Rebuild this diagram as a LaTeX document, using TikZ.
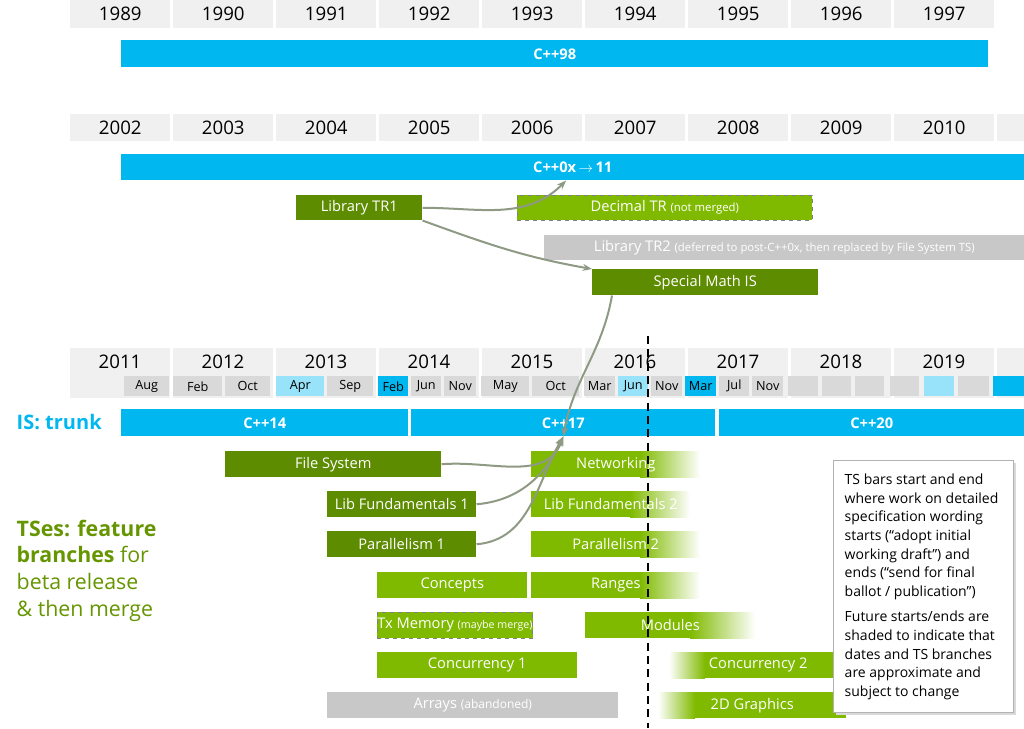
\documentclass[tikz,border=0pt]{standalone}
\usepackage{fontspec}
\setmainfont{Open Sans}
\usetikzlibrary{arrows.meta}
\definecolor{trunk}{HTML}{00B7EF}
\definecolor{paleblue}{HTML}{99E3FA}
\definecolor{dkgreen}{HTML}{5E8C00}
\definecolor{ltgreen}{HTML}{7FBA00}
\definecolor{yearbg}{HTML}{F0F0F0}
\definecolor{monthbg}{HTML}{D9D9D9}
\definecolor{abandon}{HTML}{C8C8C8}
\definecolor{merge}{HTML}{8E9A84}
\tikzset{
  yearcell/.style={fill=yearbg},
  barlbl/.style={font=\fontsize{11}{13}\selectfont, text=white},
  trunkbar/.style={fill=trunk, font=\fontsize{11}{13}\selectfont\bfseries, text=white},
  dkbar/.style={fill=dkgreen, barlbl},
  ltbar/.style={fill=ltgreen, barlbl},
  greybar/.style={fill=abandon, barlbl},
  dashbar/.style={ltbar, draw=gray, dashed},
  mergearrow/.style={draw=merge, line width=1.5pt, -{Stealth[length=7pt]}},
}
% bar node: name, x1, y1, x2, y2, style, text
\newcommand{\tbar}[7]{\node[#6, anchor=north west, inner sep=0pt,
  minimum width={(#4-#2)*0.75pt}, minimum height={(#5-#3)*0.75pt}] (#1) at (#2,#3) {#7};}
% fading bar: name, x1, y1, solid end, x2, y2, text
\newcommand{\fadebar}[7]{\fill[ltgreen] (#2,#3) rectangle (#4,#6);
  \shade[left color=ltgreen, right color=white] (#4,#3) rectangle (#5,#6);
  \tbar{#1}{#2}{#3}{#5}{#6}{barlbl}{#7}}
% fading-in bar: name, x1, y1, solid start, x2, y2, text
\newcommand{\fadeinbar}[7]{\shade[left color=white, right color=ltgreen] (#2,#3) rectangle (#4,#6);
  \fill[ltgreen] (#4,#3) rectangle (#5,#6);
  \tbar{#1}{#2}{#3}{#5}{#6}{barlbl}{#7}}
\begin{document}
\begin{tikzpicture}[x=0.75pt, y=-0.75pt]
  \useasboundingbox (0,0) rectangle (1024,728);

  % year rows
  \foreach \yr [count=\i from 0] in {1989,...,1997}
    \node[yearcell, anchor=north west, minimum width=75pt, minimum height=21pt, inner sep=0pt,
      font=\fontsize{14}{16}\selectfont] (y\yr) at (70+103*\i,0) {\yr};
  \foreach \yr [count=\i from 0] in {2002,...,2010}
    \node[yearcell, anchor=north west, minimum width=75pt, minimum height=20pt, inner sep=0pt,
      font=\fontsize{14}{16}\selectfont] (y\yr) at (70+103*\i,114) {\yr};
  \fill[yearbg] (997,114) rectangle (1024,141);
  \foreach \yr [count=\i from 0] in {2011,...,2019}
    \fill[yearbg] (70+103*\i,348) rectangle (170+103*\i,398);
  \fill[yearbg] (997,348) rectangle (1024,398);
  \foreach \yr [count=\i from 0] in {2011,...,2019}
    \node[font=\fontsize{14}{16}\selectfont] (y\yr) at (120+103*\i,362) {\yr};

  % months
  \foreach \a/\b/\m/\c [count=\k] in {124/169/Aug/monthbg, 173/222/Feb/monthbg, 225/270/Oct/monthbg,
      276/324/Apr/paleblue, 327/373/Sep/monthbg, 378/408/Feb/trunk, 411/441/Jun/monthbg,
      444/476/Nov/monthbg, 481/529/May/monthbg, 532/579/Oct/monthbg, 584/615/Mar/monthbg,
      618/648/Jun/paleblue, 651/682/Nov/monthbg, 685/716/Mar/trunk, 719/749/Jul/monthbg,
      752/783/Nov/monthbg, 788/818/{}/monthbg, 822/851/{}/monthbg, 855/884/{}/monthbg,
      890/919/{}/monthbg, 924/954/{}/paleblue, 958/989/{}/monthbg, 993/1024/{}/trunk}
    {\tbar{m\k}{\a}{376}{\b}{396}{fill=\c, font=\fontsize{9.5}{11}\selectfont}{\m}}

  % standards
  \tbar{cpp98}{121}{40}{988}{67}{trunkbar}{C++98}
  \tbar{cpp0x}{121}{154}{1024}{180}{trunkbar}{C++0x\,$\rightarrow$\,11}
  \tbar{cpp14}{121}{409}{408}{436}{trunkbar}{C++14}
  \tbar{cpp17}{411}{409}{715}{436}{trunkbar}{C++17}
  \tbar{cpp20}{719}{409}{1024}{436}{trunkbar}{C++20}
  \node[anchor=west, text=trunk, font=\fontsize{15}{17}\selectfont\bfseries] (trunklbl) at (12,422) {IS: trunk};

  % 2000s documents
  \tbar{tr1}{296}{195}{422}{220}{dkbar}{Library TR1}
  \tbar{dectr}{517}{195}{812}{220}{dashbar}{Decimal TR {\fontsize{8.5}{10}\selectfont(not merged)}}
  \tbar{tr2}{544}{235}{1024}{260}{greybar}{Library TR2 {\fontsize{8.5}{10}\selectfont(deferred to post-C++0x, then replaced by File System TS)}}
  \tbar{math}{592}{269}{818}{295}{dkbar}{Special Math IS}

  % feature branches
  \tbar{fs}{225}{451}{441}{477}{dkbar}{File System}
  \tbar{lf1}{327}{491}{476}{517}{dkbar}{Lib Fundamentals 1}
  \tbar{par1}{327}{531}{476}{557}{dkbar}{Parallelism 1}
  \tbar{concepts}{377}{572}{527}{598}{ltbar}{Concepts}
  \tbar{txmem}{377}{612}{527}{638}{dashbar}{Tx Memory {\fontsize{8}{10}\selectfont(maybe merge)}}
  \tbar{conc1}{377}{652}{577}{678}{ltbar}{Concurrency 1}
  \tbar{arrays}{327}{692}{618}{718}{greybar}{Arrays {\fontsize{9}{10}\selectfont(abandoned)}}
  \fadebar{net}{531}{451}{640}{700}{477}{Networking}
  \fadebar{lf2}{531}{491}{630}{690}{517}{Lib Fundamentals 2}
  \fadebar{par2}{531}{531}{640}{700}{557}{Parallelism 2}
  \fadebar{ranges}{531}{572}{640}{700}{598}{Ranges}
  \fadebar{modules}{585}{612}{690}{755}{638}{Modules}
  \fadeinbar{conc2}{669}{652}{705}{847}{678}{Concurrency 2}
  \fadeinbar{graphics}{658}{692}{695}{846}{718}{2D Graphics}

  % merges
  \draw[mergearrow] (tr1.east) to[out=0, in=-135] ([xshift=-5pt]cpp0x.south);
  \draw[mergearrow] (tr1.south east) to[out=-20, in=170] (math.north west);
  \draw[mergearrow] ([xshift=15pt]math.south west) to[out=-100, in=80] ([xshift=0pt]cpp17.south);
  \draw[mergearrow] (fs.east) to[out=5, in=-110] (cpp17.south);
  \draw[mergearrow] (lf1.east) to[out=5, in=-115] (cpp17.south);
  \draw[mergearrow] (par1.east) to[out=5, in=-120] (cpp17.south);

  % today
  \coordinate (nowtop) at (648,336);
  \coordinate (nowbot) at (648,728);
  \draw[line width=1.6pt, dash pattern=on 6pt off 4pt] (nowtop) -- (nowbot);

  % feature branch label
  \node[anchor=north west, text=ltgreen!80!black, align=left, font=\fontsize{16}{20}\selectfont] (tslbl) at (12,515)
    {\textbf{TSes: feature}\\ \textbf{branches} for\\ beta release\\ \& then merge};

  % note
  \fill[gray!30] (836,463) rectangle (1016,715);
  \node[draw=gray!60, fill=white, anchor=north west, inner sep=0pt, minimum width=135pt, minimum height=189pt] (notebox) at (833,460) {};
  \node[anchor=north west, align=left, font=\fontsize{10.5}{14}\selectfont] (notetxt) at (840,469)
    {TS bars start and end\\ where work on detailed\\ specification wording\\ starts (“adopt initial\\ working draft”) and\\ ends (“send for final\\ ballot / publication”)\\[5pt]
     Future starts/ends are\\ shaded to indicate that\\ dates and TS branches\\ are approximate and\\ subject to change};
\end{tikzpicture}
\end{document}
